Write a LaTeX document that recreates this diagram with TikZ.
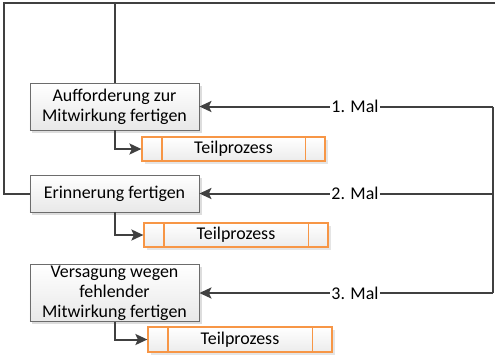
\documentclass[tikz,border=0pt]{standalone}
\usepackage{fontspec}
\setmainfont{Carlito}
\usetikzlibrary{arrows.meta,shadows}
\definecolor{orng}{HTML}{F79646}
\definecolor{lnc}{HTML}{404040}
\begin{document}
\begin{tikzpicture}[x=1bp,y=-1bp,
  proc/.style={draw=gray!85!black, line width=0.8bp, top color=white, bottom color=gray!18,
    drop shadow={shadow xshift=2.5bp, shadow yshift=-2.5bp, fill=gray!45, opacity=0.6},
    minimum width=169bp, align=center, inner sep=1bp,
    font=\fontsize{18}{20}\selectfont},
  sub/.style={draw=orng, line width=1.2bp, top color=white, bottom color=gray!15,
    drop shadow={shadow xshift=2.5bp, shadow yshift=-2.5bp, fill=gray!40, opacity=0.5},
    minimum height=24bp, inner sep=1bp, font=\fontsize{18}{20}\selectfont},
  conn/.style={draw=lnc, line width=2bp},
  arr/.style={conn, -{Stealth[length=12bp,width=11bp,inset=2.5bp]}},
  lbl/.style={fill=white, inner sep=1bp, font=\fontsize{18}{20}\selectfont}
]
\useasboundingbox (0,0) rectangle (495,354);

% process boxes
\node[proc, minimum height=47bp] (a1) at (114.5,106.5) {Aufforderung zur\\Mitwirkung fertigen};
\node[proc, minimum height=37bp] (a2) at (114.5,193.5) {Erinnerung fertigen};
\node[proc, minimum height=56bp] (a3) at (114.5,293) {Versagung wegen\\fehlender\\Mitwirkung fertigen};

% sub-process boxes
\node[sub, minimum width=183bp] (t1) at (233.5,149) {Teilprozess};
\node[sub, minimum width=184bp] (t2) at (236,235) {Teilprozess};
\node[sub, minimum width=184bp, minimum height=25bp] (t3) at (240,339.5) {Teilprozess};
\foreach \t in {t1,t2,t3}{
  \draw[orng, line width=1.2bp] ([xshift=20.5bp]\t.north west) -- ([xshift=20.5bp]\t.south west);
  \draw[orng, line width=1.2bp] ([xshift=-20.5bp]\t.north east) -- ([xshift=-20.5bp]\t.south east);
}

% coordinates
\coordinate (r1) at (493,106.5);
\coordinate (r3) at (493,293);
\coordinate (tl) at (4,2.5);
\coordinate (tr) at (495,2.5);

% right side feed
\draw[conn] (r1) -- (r3);
\draw[arr] (r1) -- node[lbl, pos=0.47] {1. Mal} (a1.east);
\draw[arr] (r1 |- a2.east) -- node[lbl, pos=0.47] {2. Mal} (a2.east);
\draw[arr] (r3) -- node[lbl, pos=0.47] {3. Mal} (a3.east);

% to sub-processes
\draw[arr] (a1.south) |- (t1.west);
\draw[arr] (a2.south) |- (t2.west);
\draw[arr] (a3.south) |- (t3.west);

% outgoing lines on top
\draw[conn] (a2.west) -| (tl) -- (tr);
\draw[conn] (a1.north) -- (a1.north |- tr);
\end{tikzpicture}
\end{document}
